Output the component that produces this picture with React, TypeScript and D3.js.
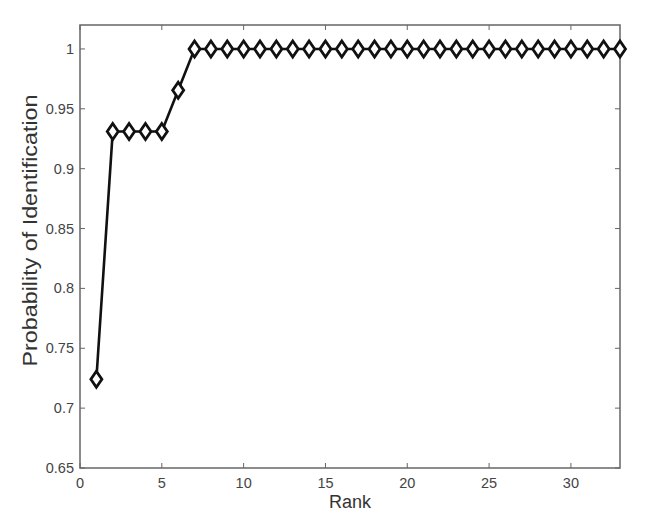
import React, { useEffect, useRef } from "react";
import * as d3 from "d3";

const ranks = d3.range(1, 34);
const probs = [
  0.7241, 0.931, 0.931, 0.931, 0.931, 0.9655, 1, 1, 1, 1, 1, 1, 1, 1, 1, 1, 1,
  1, 1, 1, 1, 1, 1, 1, 1, 1, 1, 1, 1, 1, 1, 1, 1,
];
const xTicks = [0, 5, 10, 15, 20, 25, 30];
const yTicks = [0.65, 0.7, 0.75, 0.8, 0.85, 0.9, 0.95, 1];

export default function App() {
  const svgRef = useRef<SVGSVGElement>(null);

  useEffect(() => {
    document.body.style.margin = "0";
    const w = 661;
    const h = 521;
    const m = { top: 25, right: 41, bottom: 53, left: 80 };
    const svg = d3.select(svgRef.current);
    svg.selectAll("*").remove();
    svg.attr("width", w).attr("height", h).style("background", "#fff").style("display", "block");

    const x = d3.scaleLinear().domain([0, 33]).range([m.left, w - m.right]);
    const y = d3.scaleLinear().domain([0.65, 1.02]).range([h - m.bottom, m.top]);
    const axisColor = "#666";
    const font = "Liberation Sans, Arial, sans-serif";

    // box
    svg
      .append("rect")
      .attr("x", m.left)
      .attr("y", m.top)
      .attr("width", w - m.left - m.right)
      .attr("height", h - m.top - m.bottom)
      .attr("fill", "none")
      .attr("stroke", axisColor)
      .attr("stroke-width", 1.5);

    const tl = 5;
    const xt = svg.append("g");
    xTicks.forEach((t) => {
      xt.append("line").attr("x1", x(t)).attr("x2", x(t)).attr("y1", y(0.65)).attr("y2", y(0.65) - tl).attr("stroke", axisColor);
      xt.append("line").attr("x1", x(t)).attr("x2", x(t)).attr("y1", m.top).attr("y2", m.top + tl).attr("stroke", axisColor);
      xt.append("text")
        .attr("x", x(t))
        .attr("y", y(0.65) + 20)
        .attr("text-anchor", "middle")
        .attr("font-family", font)
        .attr("font-size", 14.5)
        .attr("fill", "#444")
        .text(t);
    });
    const yt = svg.append("g");
    yTicks.forEach((t) => {
      yt.append("line").attr("x1", m.left).attr("x2", m.left + tl).attr("y1", y(t)).attr("y2", y(t)).attr("stroke", axisColor);
      yt.append("line").attr("x1", w - m.right).attr("x2", w - m.right - tl).attr("y1", y(t)).attr("y2", y(t)).attr("stroke", axisColor);
      yt.append("text")
        .attr("x", m.left - 6)
        .attr("y", y(t) + 5)
        .attr("text-anchor", "end")
        .attr("font-family", font)
        .attr("font-size", 14.5)
        .attr("fill", "#444")
        .text(String(t));
    });

    svg
      .append("text")
      .attr("x", 350)
      .attr("y", 508)
      .attr("text-anchor", "middle")
      .attr("font-family", font)
      .attr("font-size", 18)
      .attr("fill", "#333")
      .text("Rank");
    svg
      .append("text")
      .attr("transform", `translate(37,230.5) rotate(-90)`)
      .attr("text-anchor", "middle")
      .attr("font-family", font)
      .attr("font-size", 20)
      .attr("textLength", 272)
      .attr("lengthAdjust", "spacingAndGlyphs")
      .attr("fill", "#333")
      .text("Probability of Identification");

    const line = d3
      .line<number>()
      .x((d, i) => x(ranks[i]))
      .y((d) => y(d));
    svg
      .append("path")
      .datum(probs)
      .attr("d", line)
      .attr("fill", "none")
      .attr("stroke", "#111")
      .attr("stroke-width", 2.6);

    const dw = 5.5;
    const dh = 8;
    svg
      .selectAll(".dot")
      .data(probs)
      .join("path")
      .attr("d", (d, i) => {
        const cx = x(ranks[i]);
        const cy = y(d);
        return `M${cx},${cy - dh}L${cx + dw},${cy}L${cx},${cy + dh}L${cx - dw},${cy}Z`;
      })
      .attr("fill", "#fff")
      .attr("stroke", "#111")
      .attr("stroke-width", 2.8);
  }, []);

  return (
    <div>
      <svg ref={svgRef}></svg>
    </div>
  );
}
